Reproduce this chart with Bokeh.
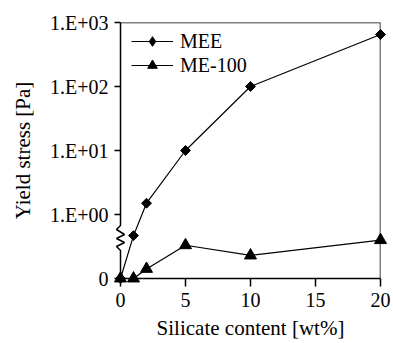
import math
from bokeh.plotting import figure
from bokeh.models import Range1d, FixedTicker, Legend, LegendItem, Span
from bokeh.embed import file_html
from bokeh.resources import INLINE

# ---- data ----
silicate = [0, 1, 2, 5, 10, 20]
mee = [0, 0.67, 1.5, 10, 100, 650]
me100 = [0, 0, 0.15, 0.52, 0.36, 0.6]
y_ticks = [0, 1, 2, 3, 4]
y_tick_labels = ["0", "1.E+00", "1.E+01", "1.E+02", "1.E+03"]
x_ticks = [0, 5, 10, 15, 20]


def axis_pos(v):
    # broken axis: linear 0..1 below the break, log10 above 1
    return v if v < 1 else 1 + math.log10(v)


FONT = "'Liberation Serif', serif"

p = figure(width=393, height=343, output_backend="svg", toolbar_location=None,
           x_range=Range1d(0, 20), y_range=Range1d(0, 4),
           min_border_left=120, min_border_right=13, min_border_top=22, min_border_bottom=65)
p.background_fill_color = "white"
p.border_fill_color = "white"
p.outline_line_color = None
p.xgrid.visible = False
p.ygrid.visible = False

# axes
p.xaxis.ticker = FixedTicker(ticks=x_ticks)
p.yaxis.ticker = FixedTicker(ticks=y_ticks)
p.yaxis.major_label_overrides = {t: l for t, l in zip(y_ticks, y_tick_labels)}
for ax in (p.xaxis[0], p.yaxis[0]):
    ax.major_label_text_font = FONT
    ax.major_label_text_font_size = "20px"
    ax.major_label_text_color = "black"
    ax.axis_label_text_font = FONT
    ax.axis_label_text_font_size = "21px"
    ax.axis_label_text_font_style = "normal"
    ax.axis_label_text_color = "black"
    ax.axis_line_color = "black"
    ax.axis_line_width = 1.5
    ax.major_tick_line_color = "black"
    ax.major_tick_line_width = 1.5
    ax.major_tick_in = 0
    ax.minor_tick_line_color = None
p.xaxis.axis_label = "Silicate content [wt%]"
p.yaxis.axis_label = "Yield stress [Pa]"
p.xaxis.major_tick_out = 8
p.xaxis.major_label_standoff = 6
p.xaxis.axis_label_standoff = 6
p.yaxis.major_tick_out = 6
p.yaxis.major_label_standoff = 6
p.yaxis.axis_label_standoff = 12
p.yaxis.axis_line_color = None

# left spine with a zigzag break
pxx = 20 / 260.0
pxy = 4 / 256.0
brk_px = [(0, 250), (-4, 246), (4, 242), (-4, 238), (4, 234), (-4, 229), (0, 225)]
spine_x = [0] + [dx * pxx for dx, _ in brk_px] + [0]
spine_y = [0] + [(278 - py) * pxy for _, py in brk_px] + [4]
p.line(spine_x, spine_y, line_color="black", line_width=1.5, level="overlay")

# top / right frame
p.add_layout(Span(location=4, dimension="width", line_color="black", line_width=1.5))
p.add_layout(Span(location=20, dimension="height", line_color="black", line_width=1.5))

# data
mee_y = [axis_pos(v) for v in mee]
me_y = [axis_pos(v) for v in me100]
l1 = p.line(silicate, mee_y, line_color="black", line_width=1.2, level="overlay")
s1 = p.scatter(silicate, mee_y, marker="square", angle=math.pi / 4, size=7,
               fill_color="black", line_color="black", level="overlay")
l2 = p.line(silicate, me_y, line_color="black", line_width=1.2, level="overlay")
s2 = p.scatter(silicate, me_y, marker="triangle", size=12,
               fill_color="black", line_color="black", level="overlay")
# legend-only diamond symbol (legend ignores marker rotation)
s1_key = p.scatter([float("nan")], [float("nan")], marker="diamond",
                   fill_color="black", line_color="black")

legend = Legend(items=[LegendItem(label="MEE", renderers=[l1, s1_key]),
                       LegendItem(label="ME-100", renderers=[l2, s2])],
                location=(11, 201))
legend.label_text_font = FONT
legend.label_text_font_size = "20px"
legend.label_text_color = "black"
legend.glyph_width = 42
legend.glyph_height = 24
legend.label_height = 24
legend.spacing = 0
legend.padding = 0
legend.margin = 0
legend.label_standoff = 7
legend.border_line_color = None
legend.background_fill_alpha = 0
p.add_layout(legend)

open("out.html", "w").write(file_html(p, INLINE))
